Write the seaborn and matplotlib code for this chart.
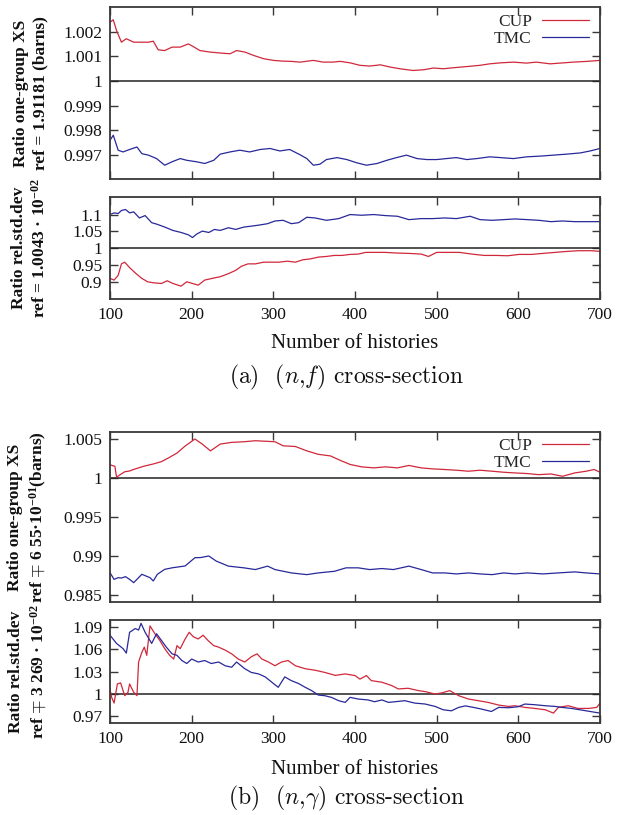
import matplotlib
matplotlib.use("Agg")
import matplotlib.pyplot as plt
import seaborn as sns

# (a) (n,f) - one-group cross-section ratio
a_xs_cup_x = [100, 104, 108, 114, 120, 129, 137, 147, 153, 159, 167, 176, 186, 196, 202, 210, 222, 235, 247, 255,
              265, 276, 288, 300, 312, 322, 333, 349, 361, 373, 382, 394, 406, 418, 431, 443, 455, 471, 484, 496,
              508, 520, 537, 553, 565, 578, 594, 610, 622, 639, 655, 667, 684, 700]
a_xs_cup_y = [1.00239, 1.00249, 1.00205, 1.00158, 1.00172, 1.00158, 1.00158, 1.00158, 1.00162, 1.00127,
              1.00124, 1.00138, 1.00138, 1.00151, 1.00140, 1.00124, 1.00118, 1.00114, 1.00111, 1.00124,
              1.00118, 1.00104, 1.00091, 1.00084, 1.00081, 1.00080, 1.00077, 1.00084, 1.00077, 1.00077,
              1.00080, 1.00074, 1.00064, 1.00061, 1.00066, 1.00057, 1.00050, 1.00043, 1.00046, 1.00053,
              1.00050, 1.00054, 1.00059, 1.00064, 1.00070, 1.00074, 1.00077, 1.00073, 1.00077, 1.00070,
              1.00074, 1.00077, 1.00080, 1.00084]
a_xs_tmc_x = [100, 104, 110, 116, 124, 133, 139, 147, 157, 167, 176, 186, 194, 206, 216, 227, 235, 247, 259, 271,
              284, 296, 308, 320, 333, 341, 349, 357, 365, 378, 390, 402, 414, 427, 439, 451, 463, 476, 488, 500,
              512, 524, 537, 549, 565, 578, 594, 610, 627, 643, 659, 676, 688, 700]
a_xs_tmc_y = [0.99759, 0.99780, 0.99719, 0.99712, 0.99722, 0.99732, 0.99705, 0.99699, 0.99685, 0.99658,
              0.99672, 0.99685, 0.99678, 0.99672, 0.99665, 0.99678, 0.99703, 0.99712, 0.99719, 0.99712,
              0.99722, 0.99726, 0.99716, 0.99722, 0.99700, 0.99685, 0.99658, 0.99662, 0.99681, 0.99689,
              0.99681, 0.99668, 0.99658, 0.99665, 0.99678, 0.99689, 0.99699, 0.99685, 0.99681, 0.99681,
              0.99685, 0.99689, 0.99681, 0.99685, 0.99692, 0.99689, 0.99685, 0.99692, 0.99695, 0.99699,
              0.99703, 0.99708, 0.99716, 0.99726]

# (a) (n,f) - relative std dev ratio
a_sd_cup_x = [100, 105, 110, 114, 118, 124, 131, 139, 146, 153, 163, 170, 177, 187, 194, 201, 208, 216, 225, 235,
              245, 254, 261, 269, 278, 288, 298, 307, 317, 327, 336, 346, 355, 365, 375, 384, 394, 404, 413, 423,
              437, 452, 466, 481, 490, 500, 514, 528, 543, 558, 573, 587, 601, 616, 630, 645, 660, 674, 689, 700]
a_sd_cup_y = [0.911, 0.906, 0.920, 0.954, 0.959, 0.943, 0.927, 0.911, 0.901, 0.898,
              0.896, 0.904, 0.896, 0.888, 0.901, 0.896, 0.891, 0.906, 0.911, 0.916,
              0.925, 0.935, 0.947, 0.954, 0.954, 0.959, 0.959, 0.959, 0.962, 0.959,
              0.966, 0.969, 0.974, 0.976, 0.979, 0.979, 0.982, 0.983, 0.988, 0.988,
              0.988, 0.986, 0.985, 0.983, 0.976, 0.988, 0.988, 0.988, 0.983, 0.979,
              0.979, 0.978, 0.982, 0.982, 0.985, 0.988, 0.991, 0.993, 0.993, 0.991]
a_sd_tmc_x = [100, 105, 110, 114, 119, 124, 129, 136, 143, 151, 158, 167, 177, 187, 196, 201, 206, 213, 221, 228,
              235, 245, 254, 264, 274, 283, 293, 302, 312, 322, 331, 341, 351, 365, 380, 394, 408, 423, 437, 452,
              466, 481, 495, 510, 524, 541, 553, 568, 582, 596, 611, 625, 640, 654, 669, 683, 700]
a_sd_tmc_y = [1.100, 1.105, 1.103, 1.112, 1.115, 1.105, 1.108, 1.090, 1.097, 1.076,
              1.071, 1.063, 1.053, 1.047, 1.040, 1.032, 1.042, 1.051, 1.047, 1.056,
              1.053, 1.061, 1.056, 1.063, 1.066, 1.069, 1.073, 1.081, 1.083, 1.073,
              1.076, 1.092, 1.090, 1.083, 1.088, 1.100, 1.098, 1.100, 1.097, 1.095,
              1.085, 1.088, 1.088, 1.090, 1.088, 1.095, 1.085, 1.083, 1.085, 1.087,
              1.085, 1.083, 1.079, 1.081, 1.079, 1.079, 1.079]

# (b) (n,gamma) - one-group cross-section ratio
b_xs_cup_x = [100, 106, 108, 112, 118, 124, 129, 141, 153, 163, 172, 182, 192, 204, 213, 223, 235, 249, 264, 278,
              293, 302, 312, 327, 341, 355, 370, 384, 394, 408, 423, 437, 452, 466, 481, 495, 510, 524, 539, 553,
              568, 582, 596, 611, 625, 640, 654, 669, 683, 693, 700]
b_xs_cup_y = [1.0017, 1.0015, 1.0001, 1.0004, 1.0008, 1.0009, 1.0011, 1.0015, 1.0018, 1.0021,
              1.0026, 1.0032, 1.0041, 1.0050, 1.00435, 1.00348, 1.00435, 1.00457, 1.00465, 1.00478,
              1.00470, 1.00465, 1.00413, 1.00404, 1.00348, 1.00304, 1.00283, 1.00217, 1.00174, 1.00143,
              1.00130, 1.00143, 1.00130, 1.00161, 1.00130, 1.00117, 1.00109, 1.00100, 1.00087, 1.00100,
              1.00087, 1.00074, 1.00065, 1.00057, 1.00043, 1.00052, 1.00022, 1.00065, 1.00087, 1.00109,
              1.00074]
b_xs_tmc_x = [100, 105, 110, 114, 119, 124, 129, 139, 149, 153, 158, 167, 177, 192, 204, 211, 221, 230, 245, 264,
              278, 293, 302, 322, 341, 355, 375, 389, 404, 418, 433, 447, 466, 481, 495, 510, 524, 539, 553, 568,
              582, 596, 611, 630, 649, 669, 683, 700]
b_xs_tmc_y = [0.98786, 0.98700, 0.98722, 0.98717, 0.98735, 0.98700, 0.98658, 0.98765, 0.98722, 0.98680,
              0.98765, 0.98829, 0.98850, 0.98872, 0.98978, 0.98980, 0.99000, 0.98935, 0.98870, 0.98848,
              0.98826, 0.98870, 0.98826, 0.98783, 0.98761, 0.98783, 0.98804, 0.98848, 0.98848, 0.98826,
              0.98839, 0.98826, 0.98870, 0.98826, 0.98783, 0.98783, 0.98770, 0.98783, 0.98770, 0.98761,
              0.98783, 0.98770, 0.98783, 0.98770, 0.98783, 0.98796, 0.98783, 0.98770]

# (b) (n,gamma) - relative std dev ratio
b_sd_cup_x = [100, 102, 105, 109, 113, 118, 122, 124, 129, 133, 135, 139, 142, 145, 149, 155, 161, 167, 173, 178,
              182, 186, 192, 197, 202, 208, 214, 220, 227, 233, 241, 249, 257, 265, 273, 280, 286, 294, 302, 310,
              318, 327, 339, 351, 363, 376, 388, 400, 406, 414, 420, 433, 445, 453, 465, 478, 486, 498, 506, 516,
              527, 539, 551, 563, 576, 588, 596, 608, 620, 633, 643, 649, 661, 673, 686, 696, 700]
b_sd_cup_y = [1.0068, 0.9955, 0.9878, 1.0135, 1.0149, 0.9977, 1.0023, 1.0135, 1.0023, 0.9977,
              1.043, 1.056, 1.063, 1.052, 1.0916, 1.081, 1.072, 1.061, 1.052, 1.047,
              1.065, 1.061, 1.074, 1.083, 1.077, 1.074, 1.079, 1.072, 1.065, 1.063,
              1.059, 1.054, 1.047, 1.043, 1.050, 1.054, 1.047, 1.043, 1.038, 1.043,
              1.045, 1.038, 1.034, 1.032, 1.029, 1.025, 1.027, 1.0248, 1.020, 1.0248,
              1.018, 1.0158, 1.0113, 1.0068, 1.0077, 1.0045, 1.0032, 1.000, 1.0014, 1.0045,
              0.9977, 0.9932, 0.991, 0.9887, 0.9851, 0.9833, 0.9842, 0.982, 0.9806, 0.9788,
              0.9743, 0.982, 0.9842, 0.9806, 0.9806, 0.982, 0.9878]
b_sd_tmc_x = [100, 108, 116, 120, 124, 131, 135, 138, 143, 151, 157, 163, 169, 176, 182, 188, 194, 200, 208, 216,
              224, 233, 241, 249, 255, 265, 273, 282, 290, 298, 306, 314, 322, 331, 339, 347, 355, 363, 371, 380,
              388, 394, 404, 416, 424, 433, 441, 449, 461, 473, 486, 498, 508, 518, 527, 535, 545, 555, 567, 576,
              588, 600, 608, 620, 633, 645, 653, 665, 678, 690, 700]
b_sd_tmc_y = [1.079, 1.068, 1.061, 1.055, 1.083, 1.088, 1.086, 1.095, 1.083, 1.068,
              1.081, 1.072, 1.063, 1.054, 1.052, 1.045, 1.041, 1.047, 1.043, 1.045,
              1.041, 1.043, 1.038, 1.036, 1.043, 1.034, 1.029, 1.027, 1.023, 1.016,
              1.009, 1.023, 1.018, 1.014, 1.009, 1.0045, 0.9986, 0.9977, 0.9955, 0.991,
              0.9887, 0.9955, 0.9932, 0.992, 0.9896, 0.992, 0.9887, 0.9896, 0.991, 0.9878,
              0.9865, 0.9833, 0.9788, 0.9774, 0.982, 0.984, 0.982, 0.9797, 0.9765, 0.982,
              0.9815, 0.9829, 0.9865, 0.9856, 0.9842, 0.9833, 0.982, 0.9806, 0.9783, 0.9761,
              0.9743]

x_ticks = [100, 200, 300, 400, 500, 600, 700]
x_labels = ['100', '200', '300', '400', '500', '600', '700']
a_xs_ticks = [0.997, 0.998, 0.999, 1.0, 1.001, 1.002]
a_xs_labels = ['0.997', '0.998', '0.999', '1', '1.001', '1.002']
a_sd_ticks = [0.9, 0.95, 1.0, 1.05, 1.1]
a_sd_labels = ['0.9', '0.95', '1', '1.05', '1.1']
b_xs_ticks = [0.985, 0.99, 0.995, 1.0, 1.005]
b_xs_labels = ['0.985', '0.99', '0.995', '1', '1.005']
b_sd_ticks = [0.97, 1.0, 1.03, 1.06, 1.09]
b_sd_labels = ['0.97', '1', '1.03', '1.06', '1.09']

RED = '#d0283a'
BLUE = '#28289a'
SPINE = '#383838'

sns.set_theme(style="ticks")
plt.rcParams['font.family'] = ['Liberation Serif', 'DejaVu Serif']
plt.rcParams['mathtext.fontset'] = 'custom'
plt.rcParams['mathtext.rm'] = 'Liberation Serif'
plt.rcParams['mathtext.bf'] = 'Liberation Serif:bold'
plt.rcParams['mathtext.it'] = 'Liberation Serif:italic'


def draw_panel(ax, cup_x, cup_y, tmc_x, tmc_y, ylim, yticks, ylabels, ylabel, show_x, legend_top=None):
    has_legend = legend_top is not None
    sns.lineplot(x=cup_x, y=cup_y, ax=ax, color=RED, lw=0.9, label='CUP' if has_legend else None, legend=False)
    sns.lineplot(x=tmc_x, y=tmc_y, ax=ax, color=BLUE, lw=0.9, label='TMC' if has_legend else None, legend=False)
    ax.axhline(1.0, color='#222222', lw=1.1, zorder=1)
    ax.set_xlim(100, 700)
    ax.set_ylim(*ylim)
    ax.set_xticks(x_ticks, x_labels if show_x else [])
    ax.set_yticks(yticks, ylabels)
    ax.tick_params(direction='in', top=True, right=True, length=5.5, width=1.0,
                   color=SPINE, labelsize=12.5, pad=5.5, labelcolor='#111111')
    for s in ax.spines.values():
        s.set_color(SPINE)
        s.set_linewidth(1.3)
    ax.set_xlabel('')
    ax.set_ylabel(ylabel, fontsize=12.5, fontweight='bold', linespacing=1.3, color='#111111')
    ax.yaxis.set_label_coords(-0.125, 0.5)
    if has_legend:
        ax.legend(loc='upper right', bbox_to_anchor=(0.978, legend_top), frameon=False, markerfirst=False,
                  handlelength=2.7, handletextpad=0.6, labelspacing=0.05, borderpad=0, borderaxespad=0,
                  fontsize=12.5)


fig = plt.figure(figsize=(6.17, 8.15), dpi=100)
left, width = 110 / 617, 490 / 617
ax1 = fig.add_axes([left, 1 - 179 / 815, width, 172 / 815])
ax2 = fig.add_axes([left, 1 - 299 / 815, width, 102 / 815])
ax3 = fig.add_axes([left, 1 - 602 / 815, width, 170 / 815])
ax4 = fig.add_axes([left, 1 - 723 / 815, width, 103 / 815])

draw_panel(ax1, a_xs_cup_x, a_xs_cup_y, a_xs_tmc_x, a_xs_tmc_y, (0.99602, 1.00301), a_xs_ticks, a_xs_labels,
           'Ratio one-group XS\nref = 1.91181 (barns)', False, legend_top=0.96)
draw_panel(ax2, a_sd_cup_x, a_sd_cup_y, a_sd_tmc_x, a_sd_tmc_y, (0.85, 1.152), a_sd_ticks, a_sd_labels,
           'Ratio rel.std.dev\nref = 1.0043 · 10$^{\\mathbf{-02}}$', True)
draw_panel(ax3, b_xs_cup_x, b_xs_cup_y, b_xs_tmc_x, b_xs_tmc_y, (0.9841, 1.0059), b_xs_ticks, b_xs_labels,
           'Ratio one-group XS\nref $\\mp$ 6 55·10$^{\\mathbf{-01}}$(barns)', False, legend_top=0.965)
draw_panel(ax4, b_sd_cup_x, b_sd_cup_y, b_sd_tmc_x, b_sd_tmc_y, (0.961, 1.0995), b_sd_ticks, b_sd_labels,
           'Ratio rel.std.dev\nref $\\mp$ 3 269 · 10$^{\\mathbf{-02}}$', True)

fig.text(355 / 617, 1 - 343 / 815, 'Number of histories', ha='center', va='center', fontsize=15, color='#111111')
fig.text(355 / 617, 1 - 770 / 815, 'Number of histories', ha='center', va='center', fontsize=15, color='#111111')
fig.text(346 / 617, 1 - 377 / 815, '(a)  ($n$,$f$) cross-section', ha='center', va='center', fontsize=17,
         family='cmr10', math_fontfamily='cm', color='#111111')
fig.text(346 / 617, 1 - 798 / 815, '(b)  ($n$,$\\gamma$) cross-section', ha='center', va='center', fontsize=17,
         family='cmr10', math_fontfamily='cm', color='#111111')

fig.savefig('out.png', dpi=100)
